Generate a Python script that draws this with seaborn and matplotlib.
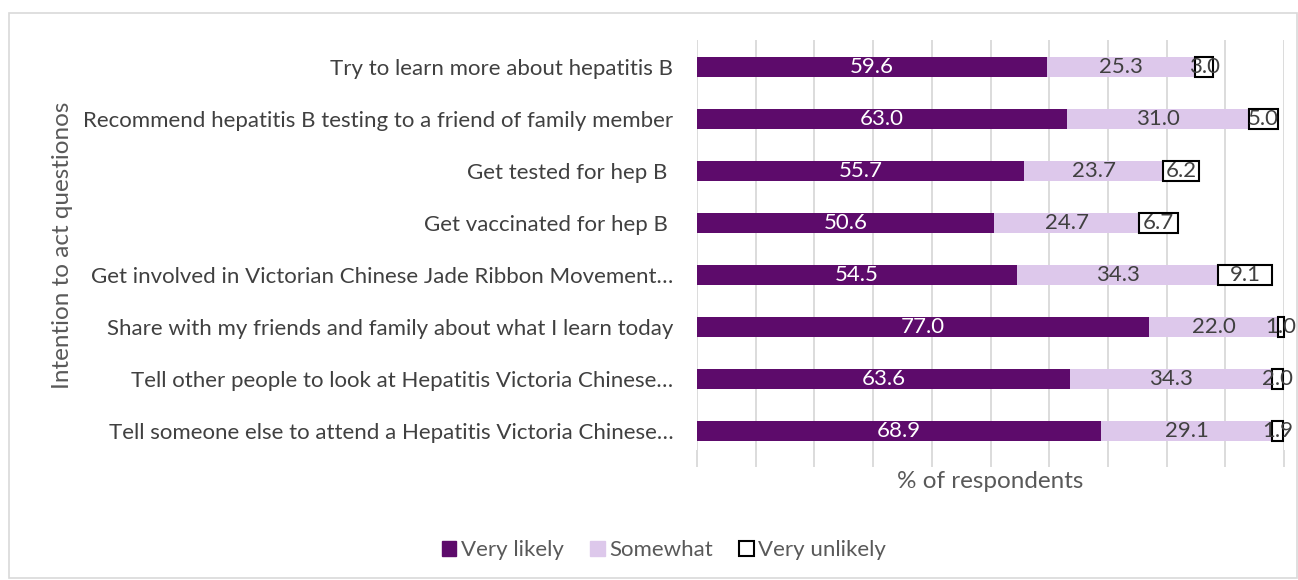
import numpy as np
import pandas as pd
import matplotlib
matplotlib.use("Agg")
import matplotlib.pyplot as plt
from matplotlib.patches import Patch, Rectangle
import seaborn as sns

questions = [
    "Try to learn more about hepatitis B",
    "Recommend hepatitis B testing to a friend of family member",
    "Get tested for hep B ",
    "Get vaccinated for hep B ",
    "Get involved in Victorian Chinese Jade Ribbon Movement\u2026",
    "Share with my friends and family about what I learn today",
    "Tell other people to look at Hepatitis Victoria Chinese\u2026",
    "Tell someone else to attend a Hepatitis Victoria Chinese\u2026",
]
very_likely = [59.6, 63.0, 55.7, 50.6, 54.5, 77.0, 63.6, 68.9]
somewhat = [25.3, 31.0, 23.7, 24.7, 34.3, 22.0, 34.3, 29.1]
very_unlikely = [3.0, 5.0, 6.2, 6.7, 9.1, 1.0, 2.0, 1.9]
series_names = ["Very likely", "Somewhat", "Very unlikely"]

sns.set_theme(style="white")
plt.rcParams["font.family"] = ["Lato", "DejaVu Sans"]

PURPLE = "#5D0B6B"
LAVENDER = "#DDC8EB"
GRID = "#D9D9D9"
TXT = "#404040"
TXT2 = "#595959"

df = pd.DataFrame({
    "question": questions,
    "very_likely": very_likely,
    "somewhat": somewhat,
    "very_unlikely": very_unlikely,
})
left_somewhat = df["very_likely"].to_numpy()
left_unlikely = (df["very_likely"] + df["somewhat"]).to_numpy()

fig = plt.figure(figsize=(12.98, 5.8), dpi=100)
ax = fig.add_axes([697 / 1298, 1 - 450 / 580, (1284 - 697) / 1298, (450 - 40) / 580])

sns.barplot(data=df, y="question", x="very_likely", orient="h", width=0.4,
            color=PURPLE, saturation=1, linewidth=0, ax=ax)
sns.barplot(data=df, y="question", x="somewhat", orient="h", width=0.4,
            color=LAVENDER, saturation=1, linewidth=0, left=left_somewhat, ax=ax)
sns.barplot(data=df, y="question", x="very_unlikely", orient="h", width=0.4,
            color="white", saturation=1, edgecolor="black", linewidth=1.5,
            left=left_unlikely, ax=ax)

label_colors = ["white", TXT, TXT]
for cont, vals, col in zip(ax.containers, [very_likely, somewhat, very_unlikely], label_colors):
    ax.bar_label(cont, labels=[f"{v:.1f}" for v in vals], label_type="center",
                 color=col, fontsize=16)
    for p in cont:
        p.set_clip_on(False)

ax.set_xlim(0, 100)
ax.set_ylim(7.365, -0.52)
ax.set_xticks(np.arange(0, 101, 10))
ax.xaxis.grid(True, color=GRID, linewidth=1.3)
ax.set_axisbelow(True)
ax.tick_params(axis="x", bottom=True, length=12, width=1.3, color=GRID,
               labelbottom=False)
ax.tick_params(axis="y", left=False, pad=11, labelsize=16, labelcolor=TXT)
for s in ax.spines.values():
    s.set_visible(False)

ax.set_xlabel("% of respondents", fontsize=17.5, color=TXT2, labelpad=3)
ax.set_ylabel("Intention to act questionos", fontsize=17.5, color=TXT2)
ax.yaxis.set_label_coords(-1.063, 0.5)

handles = [
    Patch(facecolor=PURPLE, edgecolor=PURPLE),
    Patch(facecolor=LAVENDER, edgecolor=LAVENDER),
    Patch(facecolor="white", edgecolor="black", linewidth=1.5),
]
fig.legend(handles, series_names, loc="center", bbox_to_anchor=(664 / 1298, 1 - 550 / 580),
           ncol=3, frameon=False, fontsize=16, labelcolor=TXT2,
           handlelength=0.65, handleheight=0.65, handletextpad=0.2, columnspacing=1.2)

fig.patches.append(Rectangle((9 / 1298, 0.003), 1 - 9 / 1298 - 0.001, 1 - 13 / 580 - 0.003,
                             transform=fig.transFigure, fill=False,
                             edgecolor=GRID, linewidth=1.2))

fig.savefig("out.png", dpi=100, facecolor="white")
